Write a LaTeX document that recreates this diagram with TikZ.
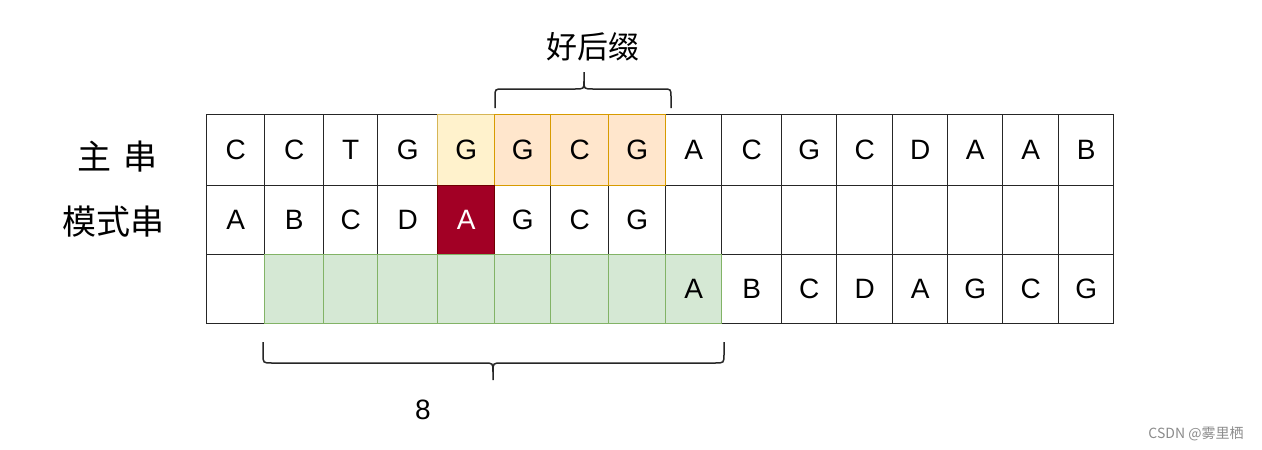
\documentclass[tikz,border=0pt]{standalone}
\usepackage{fontspec}
\setmainfont{Liberation Sans}
\newfontfamily\cjk{Noto Sans CJK SC}
\definecolor{yelF}{HTML}{FFF2CC}
\definecolor{yelD}{HTML}{D6B656}
\definecolor{oraF}{HTML}{FFE6CC}
\definecolor{oraD}{HTML}{D79B00}
\definecolor{redF}{HTML}{A20025}
\definecolor{redD}{HTML}{6F0000}
\definecolor{grnF}{HTML}{D5E8D4}
\definecolor{grnD}{HTML}{82B366}
\def\xs{{206,264,323,377,437,494,550,608,665,721,781,836,892,947,1002,1058,1113}}
\def\ys{{114,185,254,323}}
\newcommand\mkcell[4]{%
  \pgfmathsetmacro\xl{\xs[#2-1]}%
  \pgfmathsetmacro\xr{\xs[#2]}%
  \pgfmathsetmacro\yt{\ys[#1-1]}%
  \pgfmathsetmacro\yb{\ys[#1]}%
  \node[cellbox,#4,minimum width=\xr pt-\xl pt,minimum height=\yb pt-\yt pt] (r#1c#2) at (\xl,\yt) {#3};}
\begin{document}
\begin{tikzpicture}[x=1pt,y=-1pt,
  cellbox/.style={draw=black!85,line width=1.4pt,fill=white,inner sep=0pt,anchor=north west,
    font=\fontsize{28}{30}\selectfont},
  yelcell/.style={fill=yelF,draw=yelD},
  oracell/.style={fill=oraF,draw=oraD},
  redcell/.style={fill=redF,draw=redD,text=white},
  grncell/.style={fill=grnF,draw=grnD},
  bracestyle/.style={draw=black!85,line width=1.5pt},
  cjklabel/.style={font=\cjk\fontsize{34}{36}\selectfont,inner sep=0pt},
  numlabel/.style={font=\fontsize{28}{30}\selectfont,inner sep=0pt},
  wmark/.style={font=\cjk\fontsize{14}{16}\selectfont,text=black!45,inner sep=0pt}]
\useasboundingbox[fill=white] (0,0) rectangle (1262,450);
% row 1
\foreach \t [count=\i] in {C,C,T,G,G,G,C,G,A,C,G,C,D,A,A,B}{%
  \ifnum\i<5 \mkcell{1}{\i}{\t}{}\fi
  \ifnum\i>8 \mkcell{1}{\i}{\t}{}\fi}
% row 2
\foreach \t [count=\i] in {A,B,C,D,A,G,C,G,{},{},{},{},{},{},{},{}}{%
  \ifnum\i=5 \else \mkcell{2}{\i}{\t}{}\fi}
% row 3
\mkcell{3}{1}{}{}
\foreach \t [count=\i from 10] in {B,C,D,A,G,C,G}{\mkcell{3}{\i}{\t}{}}
% coloured cells
\mkcell{1}{5}{G}{yelcell}
\mkcell{1}{6}{G}{oracell}
\mkcell{1}{7}{C}{oracell}
\mkcell{1}{8}{G}{oracell}
\mkcell{2}{5}{A}{redcell}
\foreach \i in {2,...,8}{\mkcell{3}{\i}{}{grncell}}
\mkcell{3}{9}{A}{grncell}
% labels
\node[cjklabel] (lmain) at (117.5,157) {主\hspace{12pt}串};
\node[cjklabel] (lpat) at (113.5,222) {模式串};
% top brace
\coordinate (tbL) at (495,108);
\coordinate (tbR) at (671,108);
\coordinate (tbT) at (584,72);
\draw[bracestyle] (tbL) -- (495,97) .. controls (495,89) .. (503,89) -- (575,89)
  .. controls (584,89) .. (584,81) -- (tbT);
\draw[bracestyle] (tbR) -- (671,97) .. controls (671,89) .. (663,89) -- (593,89)
  .. controls (584,89) .. (584,81);
\node[cjklabel,font=\cjk\fontsize{31}{33}\selectfont] (lgood) at (593,47) {好后缀};
% bottom brace
\coordinate (bbL) at (263,342);
\coordinate (bbR) at (724,342);
\coordinate (bbT) at (493,380);
\draw[bracestyle] (bbL) -- (263,354) .. controls (263,363) .. (272,363) -- (484,363)
  .. controls (493,363) .. (493,372) -- (bbT);
\draw[bracestyle] (bbR) -- (724,354) .. controls (724,363) .. (715,363) -- (502,363)
  .. controls (493,363) .. (493,372);
\node[numlabel] (leight) at (423,410) {8};
% watermark
\node[wmark] (wm) at (1196,434) {CSDN @雾里栖};
\end{tikzpicture}
\end{document}
